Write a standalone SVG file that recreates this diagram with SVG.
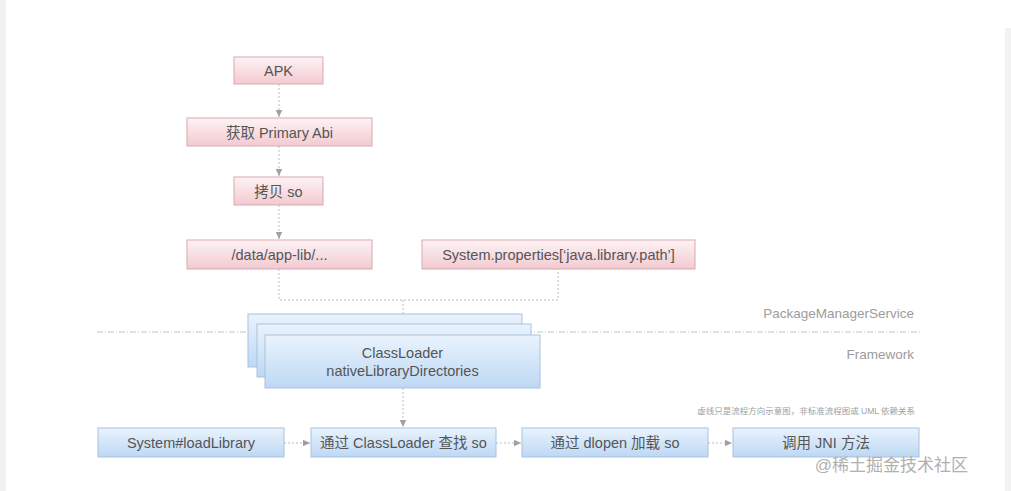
<svg xmlns="http://www.w3.org/2000/svg" width="1011" height="491" viewBox="0 0 1011 491">
<defs>
<linearGradient id="pink" x1="0" y1="0" x2="0" y2="1">
<stop offset="0" stop-color="#fdf3f4"/><stop offset="1" stop-color="#f2cad1"/>
</linearGradient>
<linearGradient id="blue" x1="0" y1="0" x2="0" y2="1">
<stop offset="0" stop-color="#eaf3fd"/><stop offset="1" stop-color="#bdd8f4"/>
</linearGradient>
<marker id="arr" markerWidth="8" markerHeight="8" refX="7" refY="4" orient="auto" markerUnits="userSpaceOnUse">
<path d="M0,0.8 L7,4 L0,7.2 Z" fill="#a0a0a0"/>
</marker>
</defs>
<style>
.pk{fill:url(#pink);stroke:#d8a9b1;stroke-width:1}
.bl{fill:url(#blue);stroke:#a9c2dc;stroke-width:1}
.t{font-family:"Liberation Sans","Noto Sans CJK SC",sans-serif;font-size:14.5px;fill:#555;text-anchor:middle}
.lbl{font-family:"Liberation Sans","Noto Sans CJK SC",sans-serif;font-size:13.5px;fill:#9c9c9c;text-anchor:end}
.c{fill:none;stroke:#bdbdbd;stroke-width:1;stroke-dasharray:2,2}
</style>
<rect x="0" y="0" width="1011" height="491" fill="#ffffff"/>
<rect x="0" y="0" width="6" height="491" fill="#f0f1f0"/>
<rect x="1005" y="28" width="6" height="463" fill="#f2f2f2"/>

<g id="connectors">
<line class="c" x1="279" y1="84" x2="279" y2="117" marker-end="url(#arr)"/>
<line class="c" x1="279" y1="146" x2="279" y2="176" marker-end="url(#arr)"/>
<line class="c" x1="279" y1="205" x2="279" y2="239" marker-end="url(#arr)"/>
<polyline class="c" points="279,269 279,300 558,300 558,269"/>
<line class="c" x1="403" y1="300" x2="403" y2="314"/>
<line class="c" x1="403" y1="388" x2="403" y2="427" marker-end="url(#arr)"/>
<line class="c" x1="284" y1="443" x2="310" y2="443" marker-end="url(#arr)"/>
<line class="c" x1="496" y1="443" x2="521" y2="443" marker-end="url(#arr)"/>
<line class="c" x1="708" y1="443" x2="732" y2="443" marker-end="url(#arr)"/>
<line x1="97" y1="332" x2="920" y2="332" stroke="#c4c4c4" stroke-width="1" stroke-dasharray="6,2,1,2"/>
</g>

<g id="apk"><rect class="pk" x="234" y="57" width="89" height="27"/><text class="t" x="278.5" y="76">APK</text></g>
<g id="abi"><rect class="pk" x="187" y="118" width="185" height="28"/><text class="t" x="279.5" y="137.5">获取 Primary Abi</text></g>
<g id="copy"><rect class="pk" x="234" y="177" width="89" height="28"/><text class="t" x="278.5" y="196.5">拷贝 so</text></g>
<g id="applib"><rect class="pk" x="187" y="240" width="185" height="29"/><text class="t" x="279.5" y="260">/data/app-lib/...</text></g>
<g id="sysprop"><rect class="pk" x="422" y="240" width="273" height="29"/><text class="t" x="558.5" y="260">System.properties[‘java.library.path’]</text></g>

<g id="classloader">
<rect class="bl" x="248" y="314" width="274" height="53"/>
<rect class="bl" x="257" y="324" width="274" height="53"/>
<rect class="bl" x="265" y="335" width="275" height="53"/>
<text class="t" x="402.5" y="358">ClassLoader</text>
<text class="t" x="402.5" y="376">nativeLibraryDirectories</text>
</g>

<g id="labels">
<text class="lbl" x="914" y="318">PackageManagerService</text>
<text class="lbl" x="914" y="359">Framework</text>
<text x="915" y="414" font-family="'Liberation Sans','Noto Sans CJK SC',sans-serif" font-size="8.5px" fill="#a0a0a0" text-anchor="end">虚线只是流程方向示意图，非标准流程图或 UML 依赖关系</text>
</g>

<g id="loadlib"><rect class="bl" x="98" y="428" width="186" height="29"/><text class="t" x="191" y="448">System#loadLibrary</text></g>
<g id="find"><rect class="bl" x="311" y="428" width="185" height="29"/><text class="t" x="403.5" y="448">通过 ClassLoader 查找 so</text></g>
<g id="dlopen"><rect class="bl" x="522" y="428" width="186" height="29"/><text class="t" x="615" y="448">通过 dlopen 加载 so</text></g>
<g id="jni"><rect class="bl" x="733" y="428" width="186" height="29"/><text class="t" x="826" y="448">调用 JNI 方法</text></g>

<text x="968" y="471" font-family="'Liberation Sans','Noto Sans CJK SC',sans-serif" font-size="17px" fill="#b0b0b0" text-anchor="end">@稀土掘金技术社区</text>
</svg>
